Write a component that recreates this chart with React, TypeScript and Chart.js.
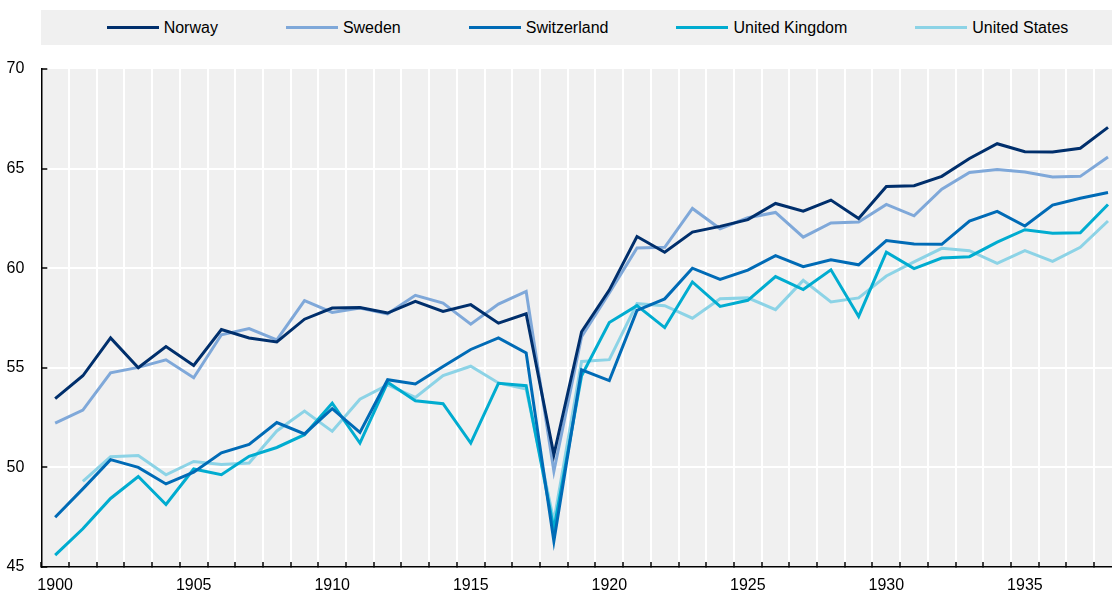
import React, { useEffect, useRef } from "react";
import { Chart, registerables } from "chart.js";

Chart.register(...registerables);

const years: number[] = [
  1900, 1901, 1902, 1903, 1904, 1905, 1906, 1907, 1908, 1909,
  1910, 1911, 1912, 1913, 1914, 1915, 1916, 1917, 1918, 1919,
  1920, 1921, 1922, 1923, 1924, 1925, 1926, 1927, 1928, 1929,
  1930, 1931, 1932, 1933, 1934, 1935, 1936, 1937, 1938,
];

const norway: (number | null)[] = [
  53.45, 54.6, 56.5, 55.0, 56.07, 55.12, 56.92, 56.5, 56.3, 57.44,
  58.0, 58.03, 57.75, 58.34, 57.83, 58.17, 57.24, 57.71, 50.63, 56.81,
  58.9, 61.59, 60.8, 61.81, 62.1, 62.44, 63.25, 62.86, 63.42, 62.49,
  64.1, 64.14, 64.61, 65.51, 66.25, 65.85, 65.83, 66.02, 67.07,
];

const sweden: (number | null)[] = [
  52.22, 52.88, 54.75, 55.02, 55.4, 54.5, 56.66, 56.97, 56.4, 58.37,
  57.78, 58.0, 57.71, 58.64, 58.25, 57.19, 58.2, 58.83, 49.81, 56.56,
  58.76, 61.02, 61.05, 63.0, 61.98, 62.53, 62.8, 61.56, 62.27, 62.32,
  63.2, 62.63, 63.97, 64.81, 64.95, 64.83, 64.58, 64.61, 65.58,
];

const switzerland: (number | null)[] = [
  47.5, 48.92, 50.39, 50.0, 49.17, 49.76, 50.73, 51.15, 52.25, 51.68,
  52.95, 51.76, 54.4, 54.19, 55.07, 55.92, 56.5, 55.75, 46.3, 54.9,
  54.36, 57.88, 58.46, 60.0, 59.44, 59.9, 60.63, 60.08, 60.42, 60.17,
  61.39, 61.22, 61.2, 62.37, 62.85, 62.12, 63.17, 63.51, 63.8,
];

const unitedKingdom: (number | null)[] = [
  45.6, 46.92, 48.44, 49.54, 48.14, 49.92, 49.63, 50.56, 51.0, 51.64,
  53.22, 51.22, 54.27, 53.34, 53.2, 51.22, 54.22, 54.1, 46.9, 54.6,
  57.27, 58.12, 57.02, 59.31, 58.08, 58.39, 59.58, 58.93, 59.92, 57.58,
  60.8, 59.98, 60.51, 60.58, 61.31, 61.93, 61.76, 61.78, 63.2,
];

const unitedStates: (number | null)[] = [
  null, 49.3, 50.53, 50.6, 49.63, 50.3, 50.14, 50.22, 51.83, 52.83,
  51.81, 53.42, 54.14, 53.51, 54.61, 55.08, 54.24, 53.93, 47.3, 55.32,
  55.41, 58.22, 58.12, 57.49, 58.47, 58.51, 57.92, 59.39, 58.31, 58.51,
  59.61, 60.32, 61.0, 60.88, 60.24, 60.88, 60.34, 61.05, 62.37,
];

const seriesNames: string[] = ["Norway", "Sweden", "Switzerland", "United Kingdom", "United States"];
const seriesColors: string[] = ["#002F6C", "#7FA8D9", "#006BB6", "#00ACD0", "#8CD3E6"];
const seriesValues = [norway, sweden, switzerland, unitedKingdom, unitedStates];

const yTicks: number[] = [45, 50, 55, 60, 65, 70];

const FONT = "'Liberation Sans', Arial, sans-serif";
const PLOT_BG = "#F0F0F0";

const plotBackground = {
  id: "plotBackground",
  beforeDraw(chart: any) {
    const { ctx, chartArea } = chart;
    if (!chartArea) return;
    ctx.save();
    ctx.fillStyle = PLOT_BG;
    ctx.fillRect(chartArea.left, chartArea.top, chartArea.right - chartArea.left, chartArea.bottom - chartArea.top);
    ctx.restore();
  },
};

export default function App() {
  const canvasRef = useRef<HTMLCanvasElement | null>(null);

  useEffect(() => {
    if (!canvasRef.current) return;
    const chart = new Chart(canvasRef.current, {
      type: "line",
      data: {
        labels: years.map(String),
        datasets: seriesNames.map((name, i) => ({
          label: name,
          data: seriesValues[i],
          borderColor: seriesColors[i],
          backgroundColor: seriesColors[i],
          borderWidth: 3,
          pointRadius: 0,
          pointHoverRadius: 0,
          tension: 0,
          fill: false,
          spanGaps: false,
        })),
      },
      options: {
        responsive: false,
        animation: false,
        devicePixelRatio: 1,
        layout: { padding: { top: 69, left: 0, right: 0, bottom: 0 } },
        plugins: {
          legend: { display: false },
          tooltip: { enabled: false },
        },
        scales: {
          x: {
            type: "category",
            offset: true,
            grid: {
              offset: true,
              color: "#FFFFFF",
              lineWidth: 2,
              drawTicks: true,
              tickLength: -5,
              tickColor: "#000000",
              tickWidth: 1.5,
            },
            border: { display: true, color: "#000000", width: 1.5 },
            ticks: {
              autoSkip: false,
              maxRotation: 0,
              minRotation: 0,
              padding: 14,
              color: "#000000",
              font: { family: FONT, size: 16 },
              callback: (_v: any, i: number) => (years[i] % 5 === 0 ? String(years[i]) : ""),
            },
            afterFit: (s: any) => {
              s.height = 24;
            },
          },
          y: {
            min: 45,
            max: 70,
            afterBuildTicks: (s: any) => {
              s.ticks = yTicks.map((v) => ({ value: v }));
            },
            grid: {
              color: (ctx: any) =>
                ctx.tick && (ctx.tick.value === 45 || ctx.tick.value === 70) ? "rgba(0,0,0,0)" : "#FFFFFF",
              lineWidth: 2,
              drawTicks: true,
              tickLength: -6,
              tickColor: "#000000",
              tickWidth: 1.5,
            },
            border: { display: true, color: "#000000", width: 1.5 },
            ticks: {
              padding: 23,
              color: "#000000",
              font: { family: FONT, size: 16 },
            },
            afterFit: (s: any) => {
              s.width = 41.3;
              s.paddingTop = 0;
              s.paddingBottom = 0;
            },
          },
        },
      },
      plugins: [plotBackground],
    });
    return () => chart.destroy();
  }, []);

  return (
    <div
      style={{
        position: "absolute",
        left: 0,
        top: 0,
        width: 1112,
        height: 591,
        overflow: "hidden",
        background: "#FFFFFF",
      }}
    >
      <div
        style={{
          position: "absolute",
          left: 41,
          top: 10,
          width: 1093,
          height: 35,
          background: PLOT_BG,
          display: "flex",
          alignItems: "center",
          justifyContent: "center",
          gap: 68,
          fontFamily: FONT,
          fontSize: 16,
          color: "#000000",
          whiteSpace: "nowrap",
        }}
      >
        {seriesNames.map((name, i) => (
          <div key={name} style={{ display: "flex", alignItems: "center" }}>
            <span
              style={{
                display: "inline-block",
                width: 52,
                height: 3,
                background: seriesColors[i],
                marginRight: 5,
              }}
            />
            <span>{name}</span>
          </div>
        ))}
      </div>
      <canvas
        ref={canvasRef}
        width={1122}
        height={591}
        style={{ position: "absolute", left: 0, top: 0, width: 1122, height: 591 }}
      />
    </div>
  );
}
